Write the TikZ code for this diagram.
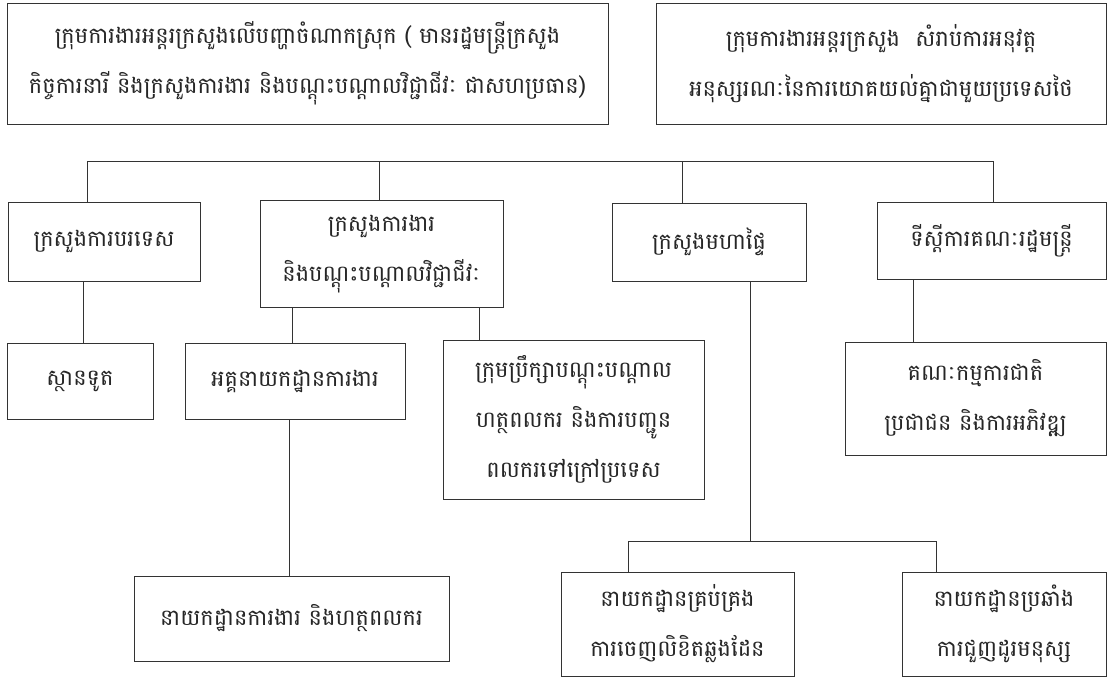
\documentclass[tikz,border=0pt]{standalone}
\usepackage{fontspec}
\newfontfamily\kh[Script=Khmer]{Battambang}
\begin{document}
\begin{tikzpicture}[x=1pt,y=-1pt,
  box/.style={draw=black!80, line width=0.9pt, inner sep=0pt, align=center,
    font=\kh\fontsize{22.5}{50}\selectfont, text=black!85},
  conn/.style={draw=black!80, line width=0.8pt}]
\useasboundingbox (0,0) rectangle (1114,680);
% top boxes
\node[box, minimum width=601pt, minimum height=121pt] (t1) at (307.5,63.5)
  {ក្រុមការងារអន្តរក្រសួងលើបញ្ហាចំណាកស្រុក ( មានរដ្ឋមន្ត្រីក្រសួង\\កិច្ចការនារី និងក្រសួងការងារ និងបណ្តុះបណ្តាលវិជ្ជាជីវៈ ជាសហប្រធាន)};
\node[box, minimum width=450pt, minimum height=121pt] (t2) at (881,63.5)
  {ក្រុមការងារអន្តរក្រសួង\ \ សំរាប់ការអនុវត្ត\\អនុស្សរណៈនៃការយោគយល់គ្នាជាមួយប្រទេសថៃ};
% row 2
\node[box, minimum width=192pt, minimum height=79pt] (b1) at (104,241.5) {ក្រសួងការបរទេស};
\node[box, minimum width=243pt, minimum height=107pt] (b2) at (381.5,254) {ក្រសួងការងារ\\និងបណ្តុះបណ្តាលវិជ្ជាជីវៈ};
\node[box, minimum width=194pt, minimum height=78pt] (b3) at (709,242) {ក្រសួងមហាផ្ទៃ};
\node[box, minimum width=229pt, minimum height=77pt] (b4) at (991.5,240.5) {ទីស្តីការគណៈរដ្ឋមន្ត្រី};
% row 3
\node[box, minimum width=146pt, minimum height=76pt] (c1) at (80,381) {ស្ថានទូត};
\node[box, minimum width=220pt, minimum height=76pt] (c2) at (295,381) {អគ្គនាយកដ្ឋានការងារ};
\node[box, minimum width=261pt, minimum height=159pt] (c3) at (573.5,419.5) {ក្រុមប្រឹក្សាបណ្តុះបណ្តាល\\ហត្ថពលករ និងការបញ្ជូន\\ពលករទៅក្រៅប្រទេស};
\node[box, minimum width=261pt, minimum height=113pt] (c4) at (975.5,398.5) {គណៈកម្មការជាតិ\\ប្រជាជន និងការអភិវឌ្ឍ};
% row 4
\node[box, minimum width=315pt, minimum height=85pt] (d1) at (291.5,618.5) {នាយកដ្ឋានការងារ និងហត្ថពលករ};
\node[box, minimum width=233pt, minimum height=104pt] (d2) at (677.5,624) {នាយកដ្ឋានគ្រប់គ្រង\\ការចេញលិខិតឆ្លងដែន};
\node[box, minimum width=204pt, minimum height=104pt] (d3) at (1004,624) {នាយកដ្ឋានប្រឆាំង\\ការជួញដូរមនុស្ស};
% connection points
\coordinate (bus) at (0,161);
\coordinate (bus2) at (0,541);
\coordinate (b1n) at ([xshift=-17pt]b1.north);
\coordinate (b2n) at ([xshift=-2.5pt]b2.north);
\coordinate (b3n) at ([xshift=-27pt]b3.north);
\coordinate (b4n) at ([xshift=1.5pt]b4.north);
\coordinate (d2n) at ([xshift=-49.5pt]d2.north);
\coordinate (d3n) at ([xshift=-68pt]d3.north);
% connectors
\draw[conn] (b1n) -- (b1n |- bus) -- (b4n |- bus) -- (b4n);
\draw[conn] (b2n) -- (b2n |- bus);
\draw[conn] (b3n) -- (b3n |- bus);
\draw[conn] ([xshift=-21pt]b1.south) -- ([xshift=-21pt]b1.south |- c1.north);
\draw[conn] ([xshift=-89.5pt]b2.south) -- ([xshift=-89.5pt]b2.south |- c2.north);
\draw[conn] ([xshift=97.5pt]b2.south) -- ([xshift=97.5pt]b2.south |- c3.north);
\draw[conn] ([xshift=-78.5pt]b4.south) -- ([xshift=-78.5pt]b4.south |- c4.north);
\draw[conn] ([xshift=-6pt]c2.south) -- ([xshift=-6pt]c2.south |- d1.north);
\draw[conn] ([xshift=41pt]b3.south) -- ([xshift=41pt]b3.south |- bus2);
\draw[conn] (d2n) -- (d2n |- bus2) -- (d3n |- bus2) -- (d3n);
\end{tikzpicture}
\end{document}
